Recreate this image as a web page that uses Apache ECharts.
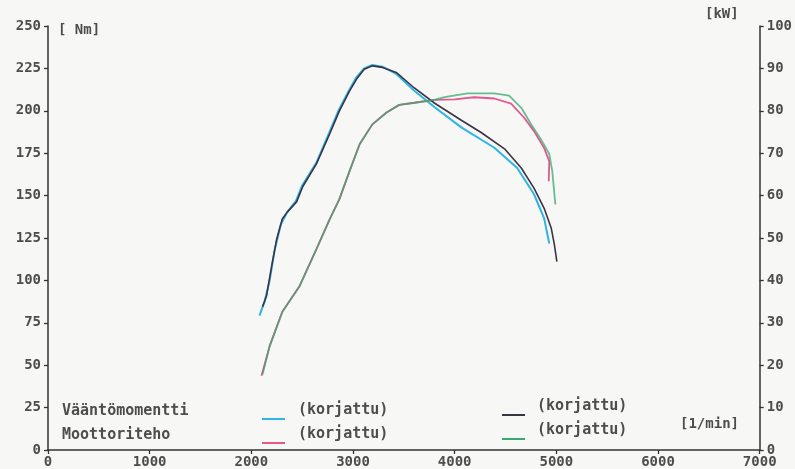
<!DOCTYPE html>
<html>
<head>
<meta charset="utf-8">
<script src="https://cdn.jsdelivr.net/npm/echarts@6/dist/echarts.min.js"></script>
<style>
  html, body { margin: 0; padding: 0; background: #f7f7f6; }
  #chart { width: 795px; height: 469px; }
</style>
</head>
<body>
<div id="chart"></div>
<script>
// Dyno run: torque (Nm, left axis) and engine power (kW, right axis) vs engine speed (1/min)

// Run 1 torque (cyan)
const torque1Rpm = [2080, 2130, 2180, 2230, 2290, 2350, 2440, 2500, 2640, 2765, 2860, 2960, 3030, 3110, 3190, 3290, 3420, 3600, 3800, 4065, 4390, 4615, 4780, 4880, 4930];
const torque1Nm  = [79.2, 87.5, 100, 118, 133, 140, 147, 156, 169.5, 187, 200.5, 212, 219.5, 225, 227, 226, 222, 212, 202.2, 190.2, 178.2, 166.3, 150.8, 136.6, 121.8];

// Run 2 torque (dark)
const torque2Rpm = [2110, 2150, 2200, 2250, 2305, 2355, 2445, 2505, 2640, 2770, 2865, 2965, 3035, 3110, 3190, 3290, 3425, 3600, 3800, 4065, 4260, 4490, 4655, 4780, 4880, 4950, 4980, 5005];
const torque2Nm  = [84.5, 91, 108.6, 124.6, 136.3, 140.4, 146.3, 155.2, 168.7, 186.3, 199.8, 211.6, 218.7, 224.5, 226.5, 225.6, 222.6, 213.6, 204.6, 194.4, 187.2, 177.6, 166.3, 154.4, 142.5, 130.7, 121.2, 111.1];

// Run 1 power (pink)
const power1Rpm = [2100, 2180, 2305, 2475, 2640, 2770, 2865, 2965, 3065, 3190, 3330, 3455, 3605, 3800, 4000, 4190, 4390, 4555, 4685, 4780, 4880, 4930, 4925];
const power1Kw  = [17.5, 24.5, 32.6, 38.7, 47.4, 54.4, 59.1, 65.7, 72.1, 76.8, 79.6, 81.4, 81.9, 82.6, 82.7, 83.2, 82.9, 81.7, 78.3, 75.2, 71.2, 68.1, 63.4];

// Run 2 power (green)
const power2Rpm = [2110, 2180, 2305, 2475, 2640, 2770, 2865, 2965, 3065, 3190, 3330, 3455, 3605, 3800, 3900, 4125, 4390, 4535, 4655, 4750, 4860, 4930, 4960, 4990];
const power2Kw  = [17.8, 24.5, 32.6, 38.7, 47.4, 54.4, 59.1, 65.7, 72.1, 76.8, 79.6, 81.4, 81.9, 82.6, 83.2, 84.1, 84.1, 83.6, 80.7, 76.9, 72.8, 69.8, 65.7, 57.9];

// Axis ranges and tick steps
const rpmMin = 0, rpmMax = 7000, rpmStep = 1000;
const nmMin = 0, nmMax = 250, nmStep = 25;
const kwMin = 0, kwMax = 100, kwStep = 10;

// Captions
const torqueLabel = 'Vääntömomentti';
const powerLabel = 'Moottoriteho';
const correctedLabel = '(korjattu)';
const nmUnit = '[ Nm]';
const kwUnit = '[kW]';
const rpmUnit = '[1/min]';

const pairs = (xs, ys) => xs.map((x, i) => [x, ys[i]]);

const FONT = '"DejaVu Sans Mono", "Liberation Mono", monospace';
const INK = '#4d4d4d';
const C_CYAN = '#2fb4e6';
const C_DARK = '#3b3444';
const C_PINK = '#e3588f';
const C_GREEN = '#3aa870';

const axisCommon = {
  axisLine: { show: true, lineStyle: { color: '#333', width: 1.5 } },
  axisTick: { show: true, length: 4, lineStyle: { color: '#333', width: 1.3 } },
  splitLine: { show: false },
  axisLabel: {
    color: INK, fontFamily: FONT, fontSize: 14, fontWeight: 'bold', margin: 7,
    formatter: v => String(v)
  }
};

const chart = echarts.init(document.getElementById('chart'), null, { renderer: 'canvas' });

const textEl = (left, top, text, size) => ({
  type: 'text', left, top,
  style: { text, fill: INK, font: `bold ${size || 15}px ${FONT}` }
});
const keyLine = (x1, y, color) => ({
  type: 'line',
  shape: { x1: x1, y1: y, x2: x1 + 23, y2: y },
  style: { stroke: color, lineWidth: 2 }
});

chart.setOption({
  backgroundColor: '#f7f7f6',
  animation: false,
  grid: { left: 48, right: 35, top: 26, bottom: 19 },
  xAxis: Object.assign({}, axisCommon, {
    type: 'value', min: rpmMin, max: rpmMax, interval: rpmStep,
    axisLine: { show: true, onZero: false, lineStyle: { color: '#333', width: 1.5 } },
    axisLabel: Object.assign({}, axisCommon.axisLabel, { margin: 5 })
  }),
  yAxis: [
    Object.assign({}, axisCommon, {
      type: 'value', position: 'left', min: nmMin, max: nmMax, interval: nmStep
    }),
    Object.assign({}, axisCommon, {
      type: 'value', position: 'right', min: kwMin, max: kwMax, interval: kwStep
    })
  ],
  series: [
    { name: 'torque1', type: 'line', yAxisIndex: 0, data: pairs(torque1Rpm, torque1Nm),
      showSymbol: false, lineStyle: { color: C_CYAN, width: 2 }, z: 2 },
    { name: 'torque2', type: 'line', yAxisIndex: 0, data: pairs(torque2Rpm, torque2Nm),
      showSymbol: false, lineStyle: { color: C_DARK, width: 1.6 }, z: 3 },
    { name: 'power1', type: 'line', yAxisIndex: 1, data: pairs(power1Rpm, power1Kw),
      showSymbol: false, lineStyle: { color: C_PINK, width: 1.8 }, z: 2 },
    { name: 'power2', type: 'line', yAxisIndex: 1, data: pairs(power2Rpm, power2Kw),
      showSymbol: false, lineStyle: { color: C_GREEN, width: 1.8, opacity: 0.75 }, z: 3 }
  ],
  graphic: [
    textEl(58, 23, nmUnit, 14),
    textEl(705, 7, kwUnit, 14),
    textEl(680, 417, rpmUnit, 14),
    textEl(62, 404, torqueLabel),
    textEl(62, 428, powerLabel),
    keyLine(262, 419, C_CYAN),
    textEl(298, 403, correctedLabel),
    keyLine(262, 443, C_PINK),
    textEl(298, 427, correctedLabel),
    keyLine(502, 415, C_DARK),
    textEl(537, 399, correctedLabel),
    keyLine(502, 439, C_GREEN),
    textEl(537, 423, correctedLabel)
  ]
});
</script>
</body>
</html>
